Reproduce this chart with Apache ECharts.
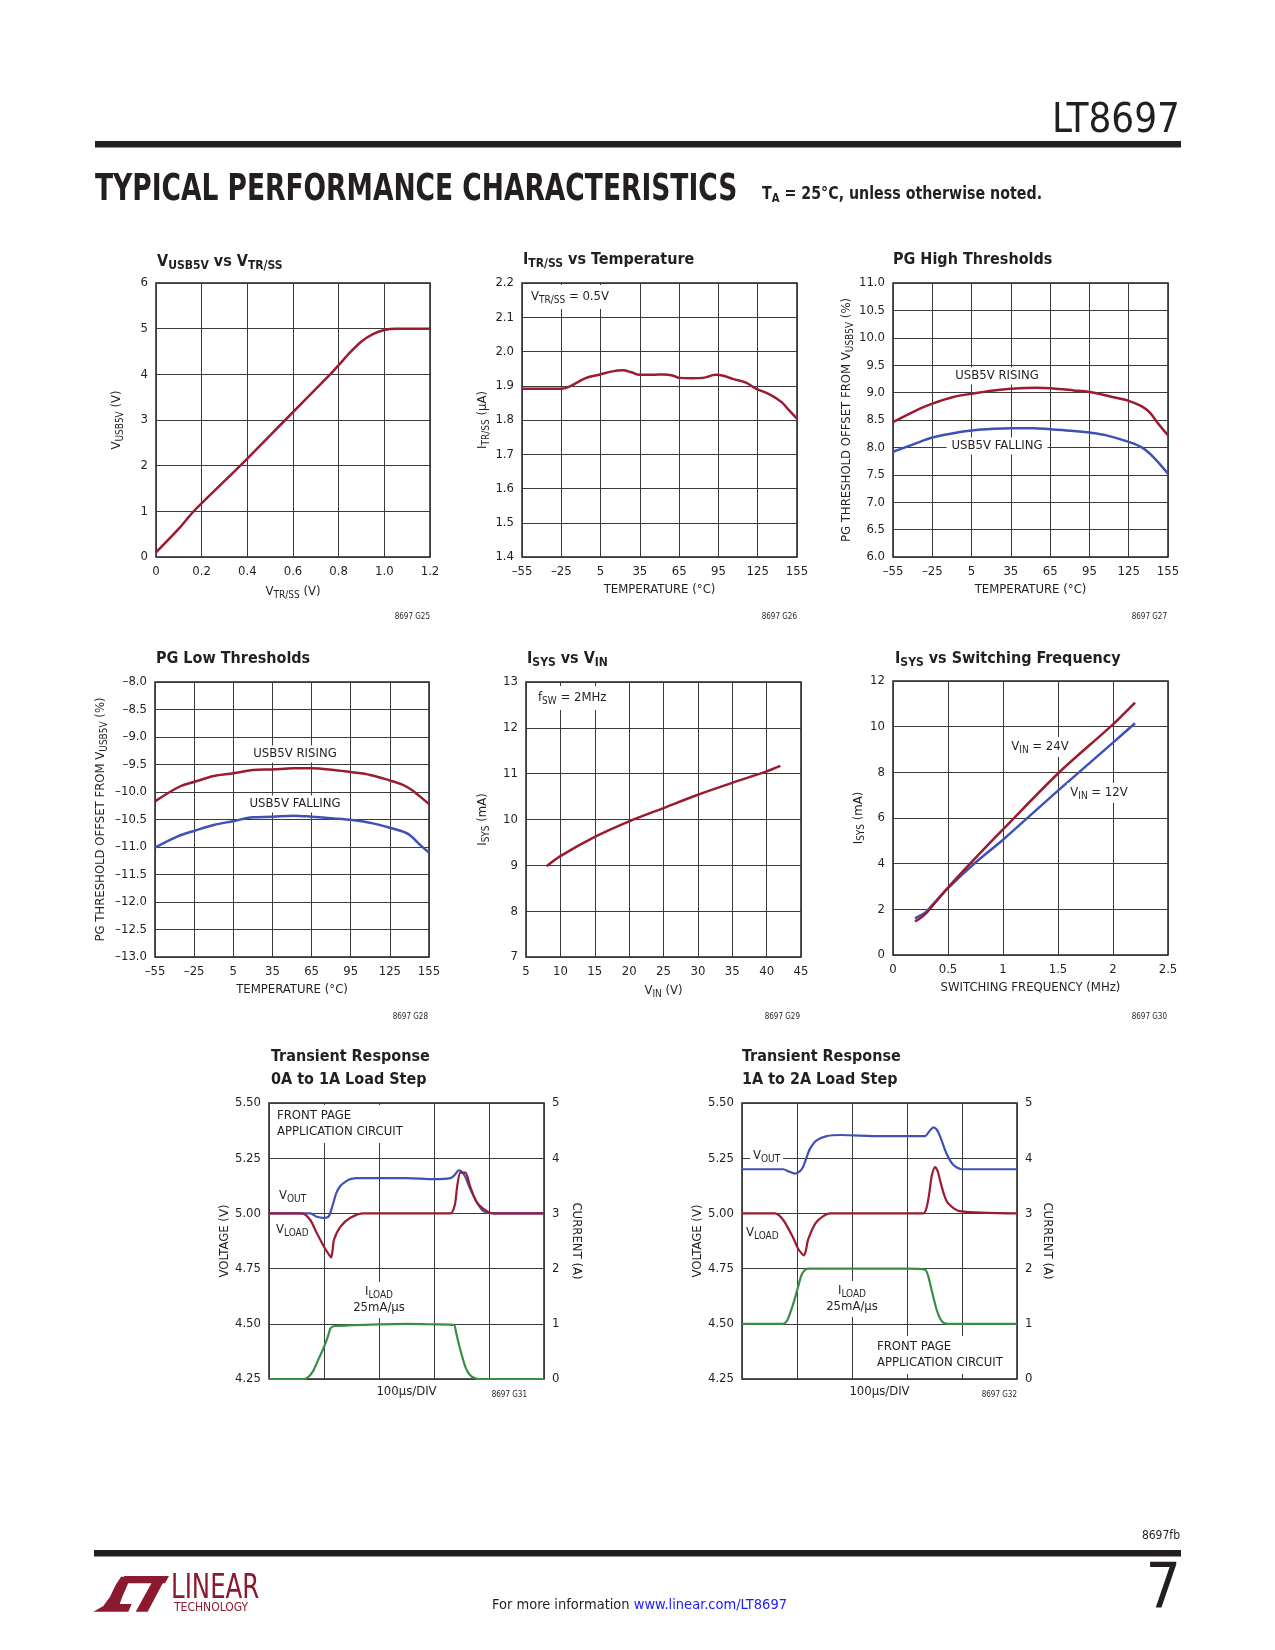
<!DOCTYPE html>
<html><head><meta charset="utf-8">
<script src="https://cdn.jsdelivr.net/npm/echarts/dist/echarts.min.js"></script>
<style>html,body{margin:0;padding:0;background:#fff}#c{width:1275px;height:1650px}</style>
</head><body><div id="c"></div>
<script>
// ---------------- DATA ----------------
// Chart 1: VUSB5V vs VTR/SS
const c1Vtr  = [0, 0.1, 0.165, 0.369, 0.566, 0.763, 0.8, 0.85, 0.9, 0.95, 1.0, 1.05, 1.2];
const c1Vusb = [0.1, 0.62, 1.0, 2.0, 3.0, 4.0, 4.2, 4.48, 4.72, 4.88, 4.97, 5.0, 5.0];
const c1XTicks = ['0','0.2','0.4','0.6','0.8','1.0','1.2'];
const c1YTicks = ['0','1','2','3','4','5','6'];

// Temperature ticks (charts 2,3,4)
const tempTicks = ['\u201355','\u201325','5','35','65','95','125','155'];

// Chart 2: ITR/SS vs Temperature
const c2Temp = [-55,-25,-18,-6,4,14,22,28,35,45,53,60,65,75,83,93,98,106,116,124,134,143,149,155];
const c2Itr  = [1.891,1.891,1.899,1.923,1.932,1.942,1.945,1.940,1.932,1.932,1.933,1.930,1.923,1.922,1.923,1.932,1.930,1.920,1.909,1.891,1.875,1.853,1.828,1.804];
const c2YTicks = ['1.4','1.5','1.6','1.7','1.8','1.9','2.0','2.1','2.2'];

// Chart 3: PG High Thresholds
const c3TempR = [-55,-34,-25,-9,5,22,35,55,65,83,95,111,125,135,141,147,155];
const c3Rise  = [8.46,8.71,8.80,8.92,8.98,9.04,9.07,9.09,9.08,9.04,9.01,8.93,8.85,8.75,8.64,8.45,8.22];
const c3TempF = [-55,-39,-25,-9,5,22,35,52,65,83,95,108,125,135,144,155];
const c3Fall  = [7.92,8.06,8.18,8.26,8.31,8.34,8.35,8.35,8.33,8.30,8.27,8.22,8.10,8.00,7.82,7.52];
const c3YTicks = ['6.0','6.5','7.0','7.5','8.0','8.5','9.0','9.5','10.0','10.5','11.0'];

// Chart 4: PG Low Thresholds
const c4TempR = [-55,-36,-24,-10,5,20,35,51,65,82,96,110,125,135,141,148,155];
const c4Rise  = [-10.17,-9.90,-9.81,-9.71,-9.66,-9.60,-9.59,-9.57,-9.57,-9.60,-9.64,-9.69,-9.79,-9.87,-9.95,-10.08,-10.22];
const c4TempF = [-55,-38,-24,-10,5,20,35,51,65,82,96,112,125,138,143,149,155];
const c4Fall  = [-11.01,-10.81,-10.70,-10.60,-10.53,-10.46,-10.45,-10.43,-10.45,-10.48,-10.51,-10.57,-10.65,-10.75,-10.84,-10.98,-11.10];
const c4YTicks = ['\u201313.0','\u201312.5','\u201312.0','\u201311.5','\u201311.0','\u201310.5','\u201310.0','\u20139.5','\u20139.0','\u20138.5','\u20138.0'];

// Chart 5: ISYS vs VIN
const c5Vin  = [8, 10, 15, 20, 25, 30, 35, 40, 42];
const c5Isys = [8.98, 9.2, 9.62, 9.96, 10.25, 10.54, 10.8, 11.05, 11.17];
const c5XTicks = ['5','10','15','20','25','30','35','40','45'];
const c5YTicks = ['7','8','9','10','11','12','13'];

// Chart 6: ISYS vs Switching Frequency
const c6F24 = [0.2, 0.25, 0.3, 0.35, 0.5, 0.75, 1.0, 1.5, 2.0, 2.2];
const c6I24 = [1.47, 1.62, 1.82, 2.1, 2.95, 4.25, 5.5, 7.95, 10.1, 11.05];
const c6F12 = [0.2, 0.3, 0.35, 0.5, 0.75, 1.0, 1.5, 2.0, 2.2];
const c6I12 = [1.6, 1.88, 2.15, 2.93, 4.05, 5.05, 7.2, 9.3, 10.15];
const c6XTicks = ['0','0.5','1','1.5','2','2.5'];
const c6YTicks = ['0','2','4','6','8','10','12'];

// Transient axes ticks
const trVTicks = ['4.25','4.50','4.75','5.00','5.25','5.50'];
const trITicks = ['0','1','2','3','4','5'];

// Chart 7: 0A to 1A load step (time in divisions, 100us/div)
const c7VoutT = [0,0.75,0.87,0.98,1.08,1.15,1.22,1.30,1.40,1.48,1.60,2.0,2.5,3.0,3.30,3.38,3.45,3.50,3.56,3.66,3.78,3.90,4.08,4.5,5.0];
const c7Vout  = [5.00,5.00,4.985,4.98,4.985,5.03,5.09,5.125,5.145,5.155,5.16,5.16,5.16,5.155,5.16,5.175,5.195,5.19,5.17,5.11,5.05,5.01,5.00,5.00,5.00];
const c7VloadT = [0,0.6,0.75,0.87,1.02,1.10,1.13,1.16,1.18,1.30,1.48,1.72,2.5,3.30,3.38,3.42,3.48,3.57,3.66,3.78,3.96,4.08,5.0];
const c7Vload  = [5.00,5.00,4.97,4.91,4.84,4.81,4.80,4.84,4.88,4.94,4.98,5.00,5.00,5.00,5.04,5.12,5.185,5.185,5.12,5.05,5.01,5.00,5.00];
const c7IloadT = [0,0.63,0.72,0.81,0.90,1.0,1.08,1.12,1.2,2.0,2.5,3.0,3.36,3.40,3.45,3.52,3.57,3.63,3.69,3.8,5.0];
const c7Iload  = [0,0,0.04,0.16,0.36,0.58,0.80,0.92,0.96,0.99,1.0,0.99,0.98,0.85,0.64,0.38,0.22,0.10,0.04,0,0];

// Chart 8: 1A to 2A load step
const c8VoutT = [0,0.75,0.85,0.96,1.05,1.11,1.17,1.23,1.35,1.54,1.8,2.5,3.0,3.33,3.40,3.48,3.54,3.60,3.72,3.84,4.0,5.0];
const c8Vout  = [5.20,5.20,5.19,5.18,5.19,5.21,5.25,5.29,5.33,5.35,5.355,5.35,5.35,5.35,5.37,5.39,5.38,5.35,5.27,5.22,5.20,5.20];
const c8VloadT = [0,0.6,0.75,0.93,1.02,1.08,1.12,1.16,1.2,1.35,1.6,2.5,3.3,3.36,3.41,3.45,3.51,3.56,3.6,3.68,3.75,3.96,5.0];
const c8Vload  = [5.00,5.00,4.97,4.89,4.84,4.82,4.81,4.83,4.88,4.96,5.00,5.00,5.00,5.03,5.10,5.17,5.21,5.19,5.15,5.08,5.045,5.01,5.00];
const c8IloadT = [0,0.75,0.82,0.87,0.95,1.02,1.08,1.14,1.2,2.0,3.0,3.33,3.38,3.42,3.48,3.54,3.60,3.66,3.75,5.0];
const c8Iload  = [1.0,1.0,1.06,1.18,1.42,1.67,1.88,1.97,2.0,2.0,2.0,1.98,1.88,1.73,1.48,1.25,1.10,1.02,1.0,1.0];

// ---------------- STYLE ----------------
const FONT = '"Liberation Sans Narrow","Arial Narrow","DejaVu Sans Condensed",sans-serif';
const INK = '#231f20', GRIDC = '#3a3a3a';
const RED = '#9b1b30', BLUE = '#3f51b5', GREEN = '#3a8d46', LOGO = '#8b1a2e';

const pairs = (xs, ys) => xs.map((x, i) => [x, ys[i]]);
const nameRich = {
  n: {fontSize: 13, fontFamily: FONT, color: INK, lineHeight: 16},
  s: {fontSize: 10, fontFamily: FONT, color: INK, lineHeight: 12, verticalAlign: 'bottom'}
};

function valAxis(gi, min, max, interval, ticks, extra) {
  return Object.assign({
    type: 'value', gridIndex: gi, min: min, max: max, interval: interval,
    axisLine: {show: false}, axisTick: {show: false},
    splitLine: {show: true, lineStyle: {color: GRIDC, width: 1}},
    axisLabel: {
      show: !!ticks, fontSize: 13, fontFamily: FONT, color: INK, margin: 8,
      showMinLabel: true, showMaxLabel: true,
      formatter: function (v) {
        if (!ticks) return '';
        const i = Math.round((v - min) / interval);
        return ticks[i] !== undefined ? ticks[i] : '';
      }
    },
    nameLocation: 'middle',
    nameTextStyle: {fontSize: 13, fontFamily: FONT, color: INK, rich: nameRich}
  }, extra || {});
}

const grids = [
  {left: 156, top: 283, width: 274, height: 274},
  {left: 522, top: 283, width: 275, height: 274},
  {left: 893, top: 283, width: 275, height: 274},
  {left: 155, top: 682, width: 274, height: 275},
  {left: 526, top: 682, width: 275, height: 275},
  {left: 893, top: 681, width: 275, height: 274},
  {left: 269, top: 1103, width: 275, height: 276},
  {left: 742, top: 1103, width: 275, height: 276}
].map(g => Object.assign({show: true, borderColor: INK, borderWidth: 1.5, backgroundColor: 'transparent', containLabel: false}, g));

const xAxes = [
  valAxis(0, 0, 1.2, 0.2, c1XTicks, {name: '{n|V}{s|TR/SS}{n| (V)}', nameGap: 27}),
  valAxis(1, -55, 155, 30, tempTicks, {name: 'TEMPERATURE (\u00B0C)', nameGap: 26}),
  valAxis(2, -55, 155, 30, tempTicks, {name: 'TEMPERATURE (\u00B0C)', nameGap: 26}),
  valAxis(3, -55, 155, 30, tempTicks, {name: 'TEMPERATURE (\u00B0C)', nameGap: 26}),
  valAxis(4, 5, 45, 5, c5XTicks, {name: '{n|V}{s|IN}{n| (V)}', nameGap: 26}),
  valAxis(5, 0, 2.5, 0.5, c6XTicks, {name: 'SWITCHING FREQUENCY (MHz)', nameGap: 26}),
  valAxis(6, 0, 5, 1, null, {name: '100\u00B5s/DIV', nameGap: 6}),
  valAxis(7, 0, 5, 1, null, {name: '100\u00B5s/DIV', nameGap: 6})
];

const yAxes = [
  valAxis(0, 0, 6, 1, c1YTicks, {name: '{n|V}{s|USB5V}{n| (V)}', nameGap: 31}),
  valAxis(1, 1.4, 2.2, 0.1, c2YTicks, {name: '{n|I}{s|TR/SS}{n| (\u00B5A)}', nameGap: 31}),
  valAxis(2, 6, 11, 0.5, c3YTicks, {name: '{n|PG THRESHOLD OFFSET FROM V}{s|USB5V}{n| (%)}', nameGap: 37}),
  valAxis(3, -13, -8, 0.5, c4YTicks, {name: '{n|PG THRESHOLD OFFSET FROM V}{s|USB5V}{n| (%)}', nameGap: 46}),
  valAxis(4, 7, 13, 1, c5YTicks, {name: '{n|I}{s|SYS}{n| (mA)}', nameGap: 35}),
  valAxis(5, 0, 12, 2, c6YTicks, {name: '{n|I}{s|SYS}{n| (mA)}', nameGap: 25}),
  valAxis(6, 4.25, 5.5, 0.25, trVTicks, {name: 'VOLTAGE (V)', nameGap: 37}),
  valAxis(7, 4.25, 5.5, 0.25, trVTicks, {name: 'VOLTAGE (V)', nameGap: 35}),
  valAxis(6, 0, 5, 1, trITicks, {position: 'right', name: 'CURRENT (A)', nameGap: 26, nameRotate: -90, splitLine: {show: false}}),
  valAxis(7, 0, 5, 1, trITicks, {position: 'right', name: 'CURRENT (A)', nameGap: 24, nameRotate: -90, splitLine: {show: false}})
];

function line(xi, yi, data, color, smooth, width) {
  return {
    type: 'line', xAxisIndex: xi, yAxisIndex: yi, data: data,
    showSymbol: false, symbol: 'none', smooth: smooth, silent: true, z: 3,
    lineStyle: {color: color, width: width || 2.5}, itemStyle: {color: color}
  };
}

const series = [
  line(0, 0, pairs(c1Vtr, c1Vusb), RED, 0.3),
  line(1, 1, pairs(c2Temp, c2Itr), RED, 0.4),
  line(2, 2, pairs(c3TempR, c3Rise), RED, 0.35),
  line(2, 2, pairs(c3TempF, c3Fall), BLUE, 0.35),
  line(3, 3, pairs(c4TempR, c4Rise), RED, 0.35),
  line(3, 3, pairs(c4TempF, c4Fall), BLUE, 0.35),
  line(4, 4, pairs(c5Vin, c5Isys), RED, 0.3),
  line(5, 5, pairs(c6F12, c6I12), BLUE, 0.3),
  line(5, 5, pairs(c6F24, c6I24), RED, 0.3),
  line(6, 6, pairs(c7VoutT, c7Vout), BLUE, 0.25, 2.2),
  line(6, 6, pairs(c7VloadT, c7Vload), RED, 0.25, 2.2),
  line(6, 8, pairs(c7IloadT, c7Iload), GREEN, 0.25, 2.2),
  line(7, 7, pairs(c8VoutT, c8Vout), BLUE, 0.25, 2.2),
  line(7, 7, pairs(c8VloadT, c8Vload), RED, 0.25, 2.2),
  line(7, 9, pairs(c8IloadT, c8Iload), GREEN, 0.25, 2.2)
];

// ---------------- TEXT / GRAPHICS ----------------
const gRich = {
  n: {fontSize: 13, fontFamily: FONT, fill: INK, color: INK, lineHeight: 16},
  s: {fontSize: 10, fontFamily: FONT, fill: INK, color: INK, lineHeight: 12, verticalAlign: 'bottom'}
};
const tRich = {
  b: {fontSize: 16, fontWeight: 'bold', fontFamily: FONT, fill: INK, color: INK, lineHeight: 20},
  bs: {fontSize: 12, fontWeight: 'bold', fontFamily: FONT, fill: INK, color: INK, lineHeight: 14, verticalAlign: 'bottom'}
};
function txt(x, y, text, opts, extra) {
  return Object.assign({type: 'text', x: x, y: y, z: 100, silent: true,
    style: Object.assign({text: text, fontFamily: FONT, fontSize: 13, fill: INK,
      align: 'left', verticalAlign: 'middle', rich: gRich}, opts || {})}, extra || {});
}
const WB = {backgroundColor: '#fff', padding: [2, 3]};
function title(x, y, text) { return txt(x, y, text, {rich: tRich, fontSize: 16, fontWeight: 'bold'}); }
function code(x, y, text) { return txt(x, y, text, {fontSize: 8, align: 'right'}); }
function P(zx, zy) { return [85 + zx / 3, 1530 + zy / 3]; }

const graphics = [
  // header
  txt(1180, 122, 'LT8697', {fontSize: 40, align: 'right'}),
  {type: 'rect', z: 100, shape: {x: 95, y: 141, width: 1086, height: 6.5}, style: {fill: INK}},
  txt(95, 190, 'TYPICAL PERFORMANCE CHARACTERISTICS', {fontSize: 38, fontWeight: 'bold'}, {scaleX: 0.775}),
  txt(762, 195, '{h|T}{hs|A}{h| = 25\u00B0C, unless otherwise noted.}', {rich: {
    h: {fontSize: 17, fontWeight: 'bold', fontFamily: FONT, fill: INK, color: INK, lineHeight: 20},
    hs: {fontSize: 12, fontWeight: 'bold', fontFamily: FONT, fill: INK, color: INK, lineHeight: 14, verticalAlign: 'bottom'}}}, {scaleX: 0.93}),

  // chart titles
  title(157, 262, '{b|V}{bs|USB5V}{b| vs V}{bs|TR/SS}'),
  title(523, 260, '{b|I}{bs|TR/SS}{b| vs Temperature}'),
  title(893, 260, '{b|PG High Thresholds}'),
  title(156, 659, '{b|PG Low Thresholds}'),
  title(527, 659, '{b|I}{bs|SYS}{b| vs V}{bs|IN}'),
  title(895, 659, '{b|I}{bs|SYS}{b| vs Switching Frequency}'),
  title(271, 1057, '{b|Transient Response}'),
  title(271, 1080, '{b|0A to 1A Load Step}'),
  title(742, 1057, '{b|Transient Response}'),
  title(742, 1080, '{b|1A to 2A Load Step}'),

  // figure codes
  code(430, 617, '8697 G25'), code(797, 617, '8697 G26'), code(1167, 617, '8697 G27'),
  code(428, 1017, '8697 G28'), code(800, 1017, '8697 G29'), code(1167, 1017, '8697 G30'),
  code(527, 1395, '8697 G31'), code(1017, 1395, '8697 G32'),

  // in-plot annotations
  txt(527, 297, '{n|V}{s|TR/SS}{n| = 0.5V}', Object.assign({}, WB, {padding: [4, 4, 4, 4]})),
  txt(997, 376, 'USB5V RISING', Object.assign({align: 'center'}, WB)),
  txt(997, 446, 'USB5V FALLING', Object.assign({align: 'center'}, WB, {padding: [2, 5]})),
  txt(295, 754, 'USB5V RISING', Object.assign({align: 'center'}, WB, {padding: [2, 5]})),
  txt(295, 804, 'USB5V FALLING', Object.assign({align: 'center'}, WB, {padding: [2, 5]})),
  txt(534, 698, '{n|f}{s|SW}{n| = 2MHz}', Object.assign({}, WB, {padding: [4, 4, 4, 4]})),
  txt(1040, 747, '{n|V}{s|IN}{n| = 24V}', Object.assign({align: 'center'}, WB, {padding: [2, 2]})),
  txt(1099, 793, '{n|V}{s|IN}{n| = 12V}', Object.assign({align: 'center'}, WB)),

  // transient 1
  txt(273, 1124, 'FRONT PAGE\nAPPLICATION CIRCUIT', Object.assign({}, WB, {lineHeight: 16, padding: [3, 4]})),
  txt(279, 1196, '{n|V}{s|OUT}'),
  txt(276, 1230, '{n|V}{s|LOAD}'),
  txt(379, 1300, '{n|I}{s|LOAD}\n{n|25mA/\u00B5s}', Object.assign({align: 'center'}, WB, {padding: [2, 3]})),

  // transient 2
  txt(750, 1156, '{n|V}{s|OUT}', Object.assign({}, WB)),
  txt(746, 1233, '{n|V}{s|LOAD}'),
  txt(852, 1299, '{n|I}{s|LOAD}\n{n|25mA/\u00B5s}', Object.assign({align: 'center'}, WB, {padding: [2, 3]})),
  txt(873, 1355, 'FRONT PAGE\nAPPLICATION CIRCUIT', Object.assign({}, WB, {lineHeight: 16, padding: [3, 4]})),

  // footer
  txt(1180, 1536, '8697fb', {fontSize: 12, align: 'right'}),
  {type: 'rect', z: 100, shape: {x: 94, y: 1550, width: 1087, height: 6.5}, style: {fill: INK}},
  txt(1181, 1591, '7', {fontSize: 62, align: 'right'}),
  txt(492, 1605, '{a|For more information }{l|www.linear.com/LT8697}', {rich: {
    a: {fontSize: 14.5, fontFamily: FONT, fill: INK, color: INK},
    l: {fontSize: 14.5, fontFamily: FONT, fill: '#1a1aff', color: '#1a1aff'}}}),
  // logo
  {type: 'polygon', z: 100, shape: {points: [P(25,245), P(55,228), P(75,200), P(92,165), P(108,140), P(138,140), P(112,200), P(104,222), P(140,222), P(130,245)]}, style: {fill: LOGO}},
  {type: 'polygon', z: 100, shape: {points: [P(118,138), P(252,138), P(240,160), P(110,160)]}, style: {fill: LOGO}},
  {type: 'polygon', z: 100, shape: {points: [P(200,158), P(234,158), P(188,245), P(152,245)]}, style: {fill: LOGO}},
  txt(171, 1589, 'LINEAR', {fontSize: 34, fill: LOGO}, {scaleX: 0.8}),
  txt(174, 1608, 'TECHNOLOGY', {fontSize: 12, fill: LOGO})
];

const chart = echarts.init(document.getElementById('c'), null, {renderer: 'canvas'});
chart.setOption({
  animation: false,
  backgroundColor: '#ffffff',
  grid: grids,
  xAxis: xAxes,
  yAxis: yAxes,
  series: series,
  graphic: graphics
});
</script></body></html>
